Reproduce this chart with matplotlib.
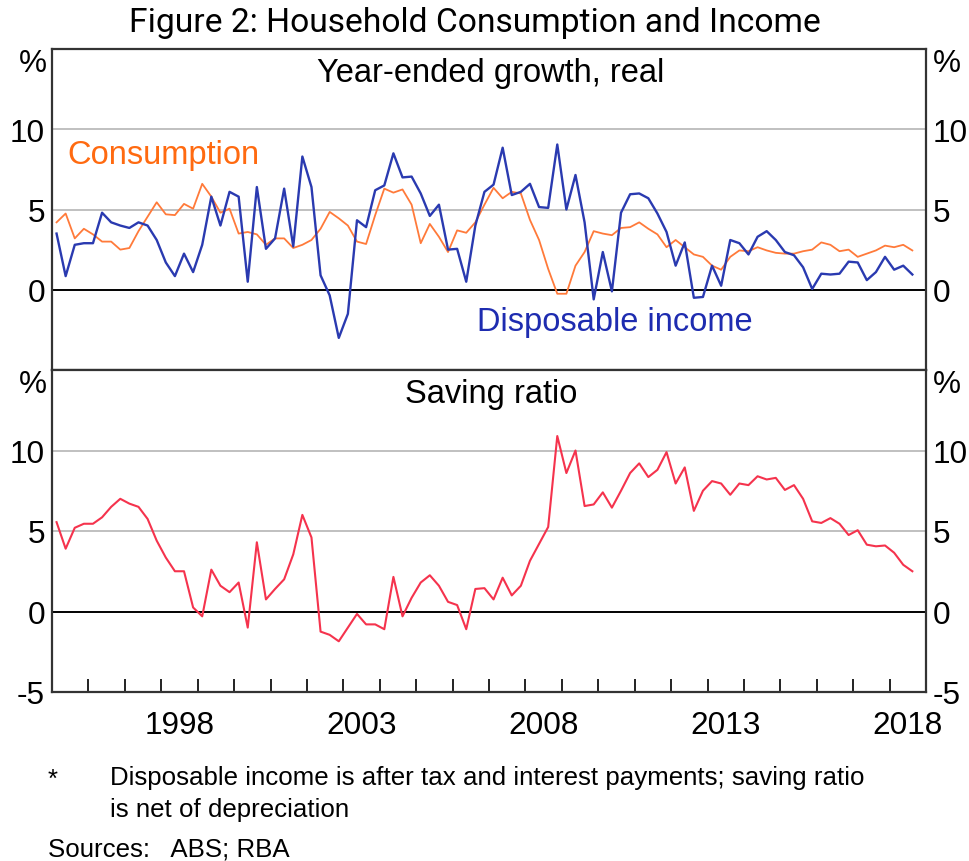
import matplotlib
matplotlib.use("Agg")
import matplotlib.pyplot as plt
import pandas as pd
from matplotlib import font_manager

# quarterly observations, 1995Q1 - 2018Q3
quarters = pd.period_range("1995Q1", "2018Q3", freq="Q")

consumption = [
    4.2, 4.75, 3.2, 3.8, 3.45, 3.0, 3.0, 2.5, 2.6, 3.65,
    4.55, 5.45, 4.7, 4.65, 5.35, 5.05, 6.6, 5.8, 4.8, 5.05,
    3.5, 3.6, 3.45, 2.8, 3.2, 3.2, 2.6, 2.8, 3.1, 3.8,
    4.85, 4.45, 4.0, 3.0, 2.85, 4.65, 6.3, 6.05, 6.25, 5.3,
    2.9, 4.1, 3.3, 2.35, 3.7, 3.55, 4.2, 5.3, 6.35, 5.7,
    6.1, 6.0, 4.35, 3.1, 1.3, -0.25, -0.25, 1.5, 2.35, 3.65,
    3.5, 3.4, 3.85, 3.9, 4.2, 3.8, 3.45, 2.65, 3.1, 2.65,
    2.2, 2.05, 1.5, 1.25, 2.05, 2.45, 2.4, 2.65, 2.45, 2.3,
    2.25, 2.25, 2.4, 2.5, 2.95, 2.8, 2.4, 2.5, 2.05, 2.25,
    2.45, 2.75, 2.65, 2.8, 2.45,
]
disposable_income = [
    3.5, 0.85, 2.8, 2.9, 2.9, 4.8, 4.2, 4.0, 3.85, 4.2,
    4.0, 3.1, 1.7, 0.85, 2.25, 1.1, 2.8, 5.8, 4.0, 6.1,
    5.8, 0.5, 6.4, 2.55, 3.2, 6.3, 2.7, 8.3, 6.4, 0.9,
    -0.35, -3.0, -1.5, 4.33, 3.9, 6.2, 6.5, 8.5, 7.0, 7.05,
    6.0, 4.6, 5.3, 2.5, 2.55, 0.5, 4.0, 6.1, 6.55, 8.85,
    5.9, 6.1, 6.6, 5.15, 5.1, 9.05, 5.0, 7.15, 4.2, -0.6,
    2.35, -0.1, 4.8, 5.95, 6.0, 5.7, 4.75, 3.6, 1.5, 2.95,
    -0.5, -0.45, 1.5, 0.25, 3.1, 2.9, 2.2, 3.3, 3.65, 3.1,
    2.35, 2.15, 1.4, 0.05, 1.0, 0.95, 1.0, 1.75, 1.7, 0.6,
    1.1, 2.05, 1.25, 1.5, 0.95,
]
saving_ratio = [
    5.55, 3.9, 5.2, 5.45, 5.45, 5.85, 6.5, 7.0, 6.7, 6.5,
    5.75, 4.4, 3.35, 2.5, 2.5, 0.25, -0.3, 2.6, 1.6, 1.2,
    1.8, -1.0, 4.3, 0.75, 1.4, 2.0, 3.55, 6.0, 4.6, -1.25,
    -1.45, -1.85, -1.0, -0.15, -0.8, -0.8, -1.1, 2.15, -0.3, 0.85,
    1.8, 2.25, 1.6, 0.6, 0.4, -1.1, 1.4, 1.45, 0.75, 2.1,
    1.0, 1.6, 3.15, 4.2, 5.25, 10.9, 8.6, 10.0, 6.55, 6.65,
    7.4, 6.45, 7.5, 8.6, 9.2, 8.35, 8.8, 9.9, 7.95, 8.95,
    6.25, 7.5, 8.1, 7.95, 7.25, 7.95, 7.85, 8.4, 8.2, 8.3,
    7.55, 7.85, 7.0, 5.6, 5.5, 5.8, 5.45, 4.75, 5.05, 4.15,
    4.05, 4.1, 3.65, 2.9, 2.5,
]

year_labels = [1998, 2003, 2008, 2013, 2018]
top_yticks = [0, 5, 10]
bottom_yticks = [-5, 0, 5, 10]

ORANGE = "#FF7A3A"
ORANGE_TEXT = "#FF6A10"
BLUE = "#2A3AB0"
BLUE_TEXT = "#1E2CB0"
RED = "#F5334D"
GRID = "#C0C0C0"

names = {f.name for f in font_manager.fontManager.ttflist}
if "Liberation Sans Narrow" in names:
    FONT, K = "Liberation Sans Narrow", 1.0
else:
    FONT, K = "Liberation Sans", 0.84
plt.rcParams["font.family"] = [FONT, "DejaVu Sans"]

# plot at mid-quarter
x = quarters.year + (quarters.quarter - 0.5) / 4

W, H = 970, 862
fig = plt.figure(figsize=(W / 100, H / 100), dpi=100)
ax1 = fig.add_axes([52 / W, 1 - 371 / H, 874 / W, 321 / H])
ax2 = fig.add_axes([52 / W, 1 - 693 / H, 874 / W, 322 / H])


def style_panel(ax, yticks, title):
    ax.set_xlim(1995, 2019)
    ax.set_ylim(-5, 15)
    for v in (5, 10):
        ax.axhline(v, color=GRID, lw=1.4, zorder=1)
    ax.axhline(0, color="black", lw=1.4, zorder=1)
    for s in ax.spines.values():
        s.set_color("#333333")
        s.set_linewidth(1.6)
    ax.set_yticks(yticks)
    ax.set_yticklabels([str(t) for t in yticks])
    ax.tick_params(axis="y", length=0, labelleft=True, labelright=True,
                   pad=5, labelsize=27 * K)
    for x0, ha, off in ((0, "right", -4), (1, "left", 5)):
        ax.annotate("%", xy=(x0, 14.1), xycoords=("axes fraction", "data"),
                    xytext=(off, 0), textcoords="offset points",
                    ha=ha, va="center", fontsize=27 * K)
    ax.text(2007.05, 13.55, title, ha="center", va="center", fontsize=28 * K)


style_panel(ax1, top_yticks, "Year-ended growth, real")
style_panel(ax2, bottom_yticks, "Saving ratio")

ax1.plot(x, consumption, color=ORANGE, lw=1.3, zorder=3)
ax1.plot(x, disposable_income, color=BLUE, lw=1.7, zorder=4)
ax1.set_xticks([])
ax1.text(1995.43, 8.45, "Consumption", color=ORANGE_TEXT, va="center",
         fontsize=28 * K)
ax1.text(2006.66, -2.0, "Disposable income", color=BLUE_TEXT, va="center",
         fontsize=28 * K)

ax2.plot(x, saving_ratio, color=RED, lw=1.5, zorder=3)
ax2.set_xticks(range(1996, 2019), minor=True)
ax2.set_xticks([y + 0.5 for y in year_labels])
ax2.set_xticklabels([str(y) for y in year_labels])
ax2.tick_params(axis="x", which="minor", direction="in", length=9.5,
                width=1.4, color="#222222")
ax2.tick_params(axis="x", which="major", length=0, pad=13,
                labelsize=27 * K)

fig.text(475 / W, 1 - 23 / H, "Figure 2: Household Consumption and Income",
         ha="center", va="center", fontsize=24.2,
         family=["Roboto", "DejaVu Sans"])

foot = 22.2 * K
fig.text(48 / W, 1 - 780 / H, "*", ha="left", va="center", fontsize=foot)
fig.text(110 / W, 1 - 778 / H,
         "Disposable income is after tax and interest payments; saving ratio",
         ha="left", va="center", fontsize=foot)
fig.text(110 / W, 1 - 810 / H, "is net of depreciation",
         ha="left", va="center", fontsize=foot)
fig.text(48 / W, 1 - 850 / H, "Sources:   ABS; RBA",
         ha="left", va="center", fontsize=foot)

fig.savefig("out.png", dpi=100)
